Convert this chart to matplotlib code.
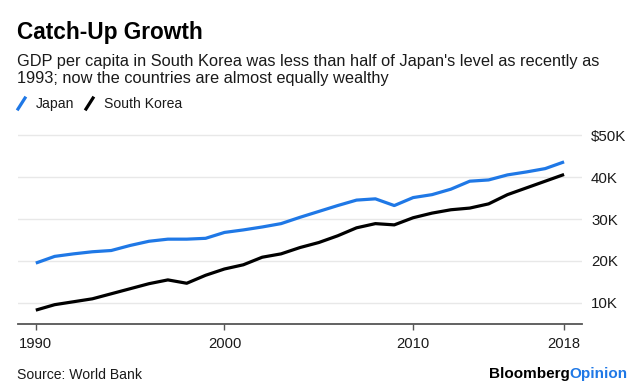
import numpy as np
import matplotlib
matplotlib.use('Agg')
import matplotlib.pyplot as plt
from matplotlib.lines import Line2D

plt.rcParams['font.family'] = ['Liberation Sans', 'DejaVu Sans']

# data (GDP per capita, thousand $)
years = np.arange(1990, 2019)
japan = [19.5, 21.1, 21.7, 22.2, 22.5, 23.7, 24.7, 25.2, 25.2, 25.4,
         26.8, 27.4, 28.1, 28.9, 30.4, 31.8, 33.2, 34.5, 34.8, 33.2,
         35.1, 35.8, 37.1, 39.0, 39.3, 40.5, 41.2, 42.0, 43.6]
korea = [8.3, 9.6, 10.3, 11.0, 12.2, 13.4, 14.6, 15.5, 14.7, 16.6,
         18.1, 19.1, 20.9, 21.7, 23.2, 24.4, 26.0, 27.9, 28.9, 28.6,
         30.3, 31.4, 32.2, 32.6, 33.6, 35.8, 37.4, 39.0, 40.6]
yticks = [10, 20, 30, 40, 50]
ylabels = ['10K', '20K', '30K', '40K', '$50K']
xticks = [1990, 2000, 2010, 2018]

blue = '#1f78e6'
txt = '#1a1a1a'

fig = plt.figure(figsize=(6.4, 3.9), dpi=100)
W, H = 640, 390
ax = fig.add_axes([17.5 / W, 1 - 324 / H, (582 - 17.5) / W, (324 - 125) / H])

ax.plot(years, japan, color=blue, lw=2.3, solid_capstyle='butt')
ax.plot(years, korea, color='black', lw=2.3, solid_capstyle='butt')

ax.set_xlim(1989.03, 2018.95)
ax.set_ylim(10 - 21 / 4.2, 50 + 10 / 4.2)
ax.set_yticks(yticks)
ax.set_yticklabels(ylabels)
ax.set_xticks(xticks)
ax.yaxis.tick_right()
ax.tick_params(axis='y', length=0, pad=6.5, labelsize=10.8, labelcolor=txt)
ax.tick_params(axis='x', length=4, width=1, color='#555555', pad=5,
               labelsize=10.6, labelcolor=txt)
ax.grid(axis='y', color='#e8e8e8', lw=1)
ax.set_axisbelow(True)
for s in ['top', 'left', 'right']:
    ax.spines[s].set_visible(False)
ax.spines['bottom'].set_color('#555555')
ax.spines['bottom'].set_linewidth(1.3)

# titles
fig.text(17 / W, 1 - 33 / H, 'Catch-Up Growth', fontsize=16.3, fontweight='bold',
         va='center', ha='left', color='black')
fig.text(17 / W, 1 - 70 / H,
         "GDP per capita in South Korea was less than half of Japan's level as recently as\n"
         "1993; now the countries are almost equally wealthy",
         fontsize=11.75, va='center', ha='left', color=txt, linespacing=1.22)

# legend
def leg(x, color, label):
    fig.add_artist(Line2D([x / W, (x + 7) / W], [1 - 109 / H, 1 - 98 / H],
                          color=color, lw=2.3, transform=fig.transFigure))
    fig.text((x + 18) / W, 1 - 104 / H, label, fontsize=10.1, va='center',
             ha='left', color=txt)

leg(18, blue, 'Japan')
leg(86, 'black', 'South Korea')

# footer
fig.text(17 / W, 1 - 375 / H, 'Source: World Bank', fontsize=10.1, va='center',
         ha='left', color=txt)
fig.text(570 / W, 1 - 374 / H, 'Bloomberg', fontsize=11, fontweight='bold',
         va='center', ha='right', color='black')
fig.text(569 / W, 1 - 374 / H, 'Opinion', fontsize=11, fontweight='bold',
         va='center', ha='left', color=blue)

fig.savefig('out.png', dpi=100)
